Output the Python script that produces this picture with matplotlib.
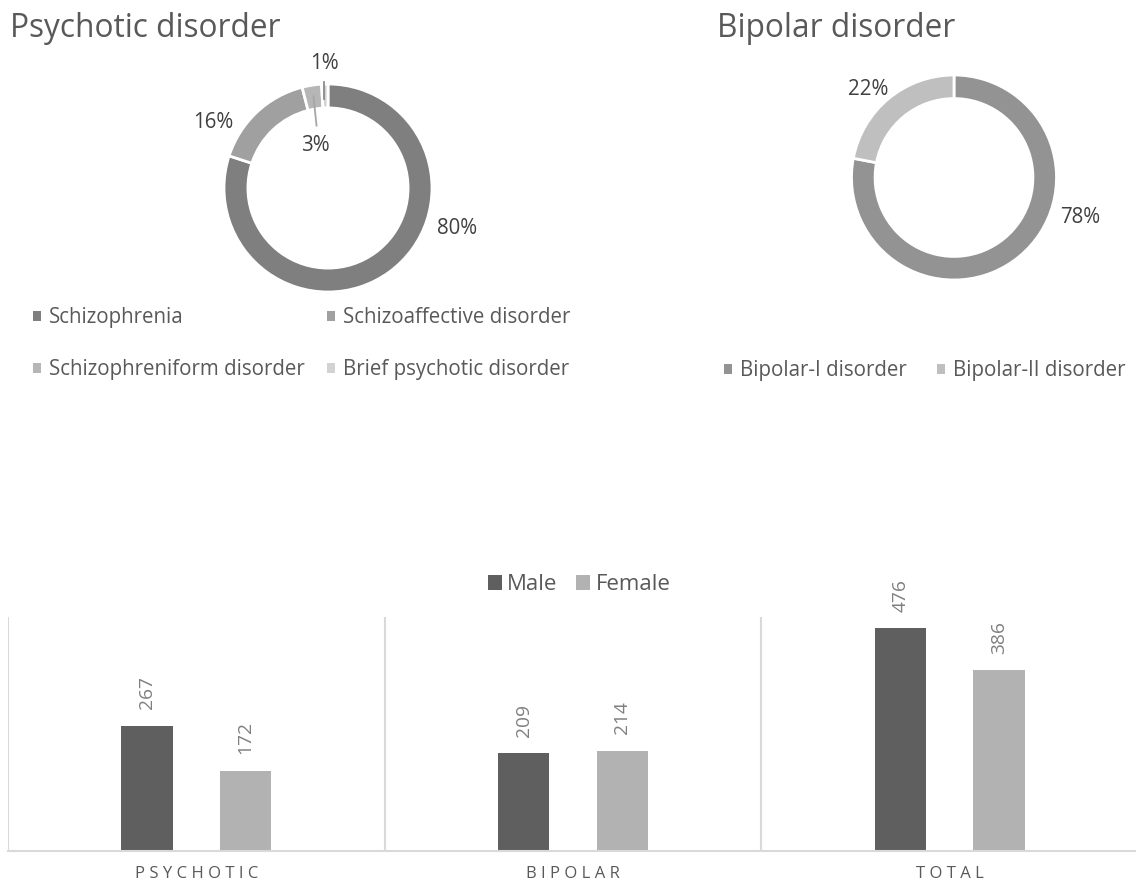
import matplotlib
matplotlib.use("Agg")
import matplotlib.pyplot as plt
from matplotlib.patches import Patch

# --- data -------------------------------------------------------------
psy_labels = ["Schizophrenia", "Schizoaffective disorder",
              "Schizophreniform disorder", "Brief psychotic disorder"]
psy_pct = [80, 16, 3, 1]

bip_labels = ["Bipolar-I disorder", "Bipolar-II disorder"]
bip_pct = [78, 22]

groups = ["PSYCHOTIC", "BIPOLAR", "TOTAL"]
male = [267, 209, 476]
female = [172, 214, 386]

# --- styling ----------------------------------------------------------
plt.rcParams["font.family"] = ["Open Sans", "DejaVu Sans"]
W, H = 1136, 889
fig = plt.figure(figsize=(W / 100, H / 100), dpi=100)
TXT = "#595959"
LBL = "#404040"

psy_colors = ["#7f7f7f", "#a0a0a0", "#b6b6b6", "#d2d2d2"]
bip_colors = ["#939393", "#bfbfbf"]


def px_axes(x0, y0, x1, y1):
    """Axes given by pixel box (top-left origin)."""
    return fig.add_axes([x0 / W, 1 - y1 / H, (x1 - x0) / W, (y1 - y0) / H])


def donut(cx, cy, r, values, colors):
    ax = px_axes(cx - r, cy - r, cx + r, cy + r)
    wedges, _ = ax.pie(values, colors=colors, startangle=90, counterclock=False,
                       radius=1.0,
                       wedgeprops=dict(width=0.23, edgecolor="white", linewidth=2))
    ax.set_xlim(-1, 1)
    ax.set_ylim(-1, 1)
    ax.set_aspect("equal")
    ax.axis("off")
    for w in wedges:
        w.set_clip_on(False)
    return ax, wedges


def patches(colors, labels):
    return [Patch(facecolor=c, edgecolor="none", label=l) for c, l in zip(colors, labels)]


# --- psychotic donut --------------------------------------------------
fig.text(10 / W, 1 - 37 / H, "Psychotic disorder", fontsize=22.8, color=TXT,
         va="baseline", ha="left")
ax1, w1 = donut(328, 188, 104, psy_pct, psy_colors)
psy_pos = [(1.24, -0.385), (-1.106, 0.625), (-0.125, 0.41), (-0.038, 1.20)]
for v, (x, y) in zip(psy_pct, psy_pos):
    ax1.text(x, y, f"{v}%", fontsize=14.8, color=LBL, ha="center", va="center",
             clip_on=False)
# leader lines for the two narrow slices
ax1.plot([-0.14, -0.11], [0.88, 0.60], color="#a6a6a6", lw=1.3, clip_on=False)
ax1.plot([-0.04, -0.04], [1.02, 0.86], color="#8c8c8c", lw=1.3, clip_on=False)

# legend filled row by row: column-major order for matplotlib
h1 = patches(psy_colors, psy_labels)
fig.legend(handles=[h1[0], h1[2], h1[1], h1[3]],
           loc="center left", bbox_to_anchor=(33 / W, 1 - 343.5 / H), ncol=2,
           frameon=False, fontsize=14.8, borderpad=0, borderaxespad=0,
           handlelength=0.37, handleheight=0.37, handletextpad=0.39,
           columnspacing=1.1, labelspacing=1.5, labelcolor=TXT)

# --- bipolar donut ----------------------------------------------------
fig.text(717 / W, 1 - 37 / H, "Bipolar disorder", fontsize=22.8, color=TXT,
         va="baseline", ha="left")
ax2, w2 = donut(954, 177.5, 102.5, bip_pct, bip_colors)
bip_pos = [(1.229, -0.395), (-0.839, 0.863)]
for v, (x, y) in zip(bip_pct, bip_pos):
    ax2.text(x, y, f"{v}%", fontsize=14.8, color=LBL, ha="center", va="center",
             clip_on=False)
fig.legend(handles=patches(bip_colors, bip_labels),
           loc="center left", bbox_to_anchor=(724 / W, 1 - 371 / H), ncol=2,
           frameon=False, fontsize=14.8, borderpad=0, borderaxespad=0,
           handlelength=0.37, handleheight=0.37, handletextpad=0.39,
           columnspacing=1.5, labelcolor=TXT)

# --- grouped bars -----------------------------------------------------
ax3 = px_axes(8, 617, 1138, 851)
x = range(len(groups))
bw, off = 0.136, 0.131
bm = ax3.bar([i - off for i in x], male, bw, color="#5f5f5f", label="Male")
bf = ax3.bar([i + off for i in x], female, bw, color="#b2b2b2", label="Female")
ax3.set_xlim(-0.5, len(groups) - 0.5)
ax3.set_ylim(0, 500)
for sp in ["top", "right", "left"]:
    ax3.spines[sp].set_visible(False)
ax3.spines["bottom"].set_color("#d9d9d9")
ax3.spines["bottom"].set_linewidth(1.5)
for b in [i - 0.5 for i in range(len(groups) + 1)]:
    ax3.axvline(b, color="#d9d9d9", lw=1.5, zorder=0)
ax3.set_yticks([])
ax3.set_xticks(list(x))
ax3.set_xticklabels([" ".join(g) for g in groups], fontsize=12, color=TXT)
ax3.tick_params(axis="x", length=0, pad=11)
for bars in (bm, bf):
    for rect in bars:
        h = rect.get_height()
        ax3.annotate(f"{h:g}", (rect.get_x() + rect.get_width() / 2, h),
                     xytext=(0, 12), textcoords="offset points", rotation=90,
                     ha="center", va="bottom", fontsize=13.8, color="#7f7f7f")
fig.legend(handles=[bm, bf], loc="center left", bbox_to_anchor=(488 / W, 1 - 585 / H),
           ncol=2, frameon=False, fontsize=16, borderpad=0, borderaxespad=0,
           handlelength=0.63, handleheight=0.63, handletextpad=0.23,
           columnspacing=0.85, labelcolor=TXT)

fig.savefig("out.png", dpi=100)
